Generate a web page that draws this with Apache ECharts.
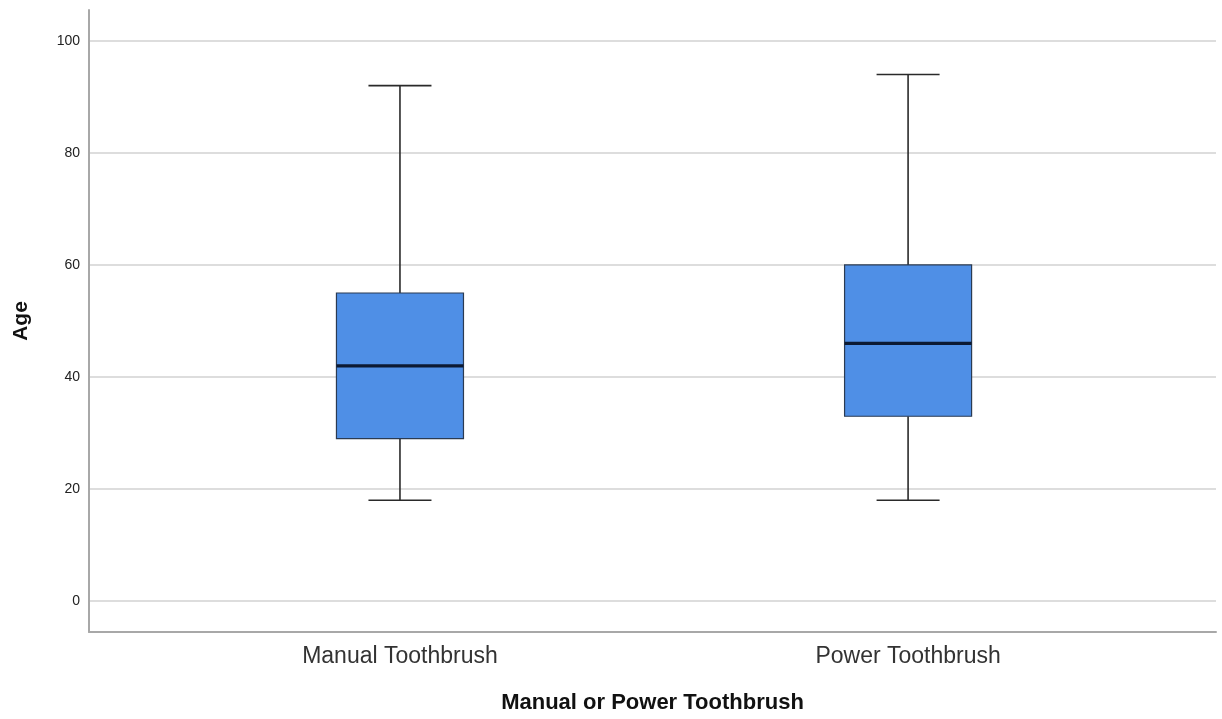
<!DOCTYPE html>
<html>
<head>
<meta charset="utf-8">
<script src="https://cdn.jsdelivr.net/npm/echarts@6/dist/echarts.min.js"></script>
<style>html,body{margin:0;padding:0;background:#fff}#c{width:1222px;height:719px}</style>
</head>
<body>
<div id="c"></div>
<script>
var categories = ['Manual Toothbrush', 'Power Toothbrush'];
// [min, Q1, median, Q3, max]
var minValues = [18, 18];
var q1Values = [29, 33];
var medianValues = [42, 46];
var q3Values = [55, 60];
var maxValues = [92, 94];
var yTicks = [0, 20, 40, 60, 80, 100];

var data = categories.map(function (c, i) {
  return [i, minValues[i], q1Values[i], medianValues[i], q3Values[i], maxValues[i]];
});

var BOX_HALF = 0.125, CAP_HALF = 0.062;

var chart = echarts.init(document.getElementById('c'), null, {renderer: 'canvas'});
chart.setOption({
  animation: false,
  backgroundColor: '#fff',
  grid: {left: 89, right: 6, top: 10, bottom: 84, containLabel: false},
  xAxis: {
    type: 'value',
    min: -0.612, max: 1.606,
    name: 'Manual or Power Toothbrush',
    nameLocation: 'middle',
    nameGap: 60,
    nameTextStyle: {fontFamily: 'Liberation Sans, Arial', fontWeight: 'bold', fontSize: 22, color: '#111'},
    axisLine: {show: true, onZero: false, lineStyle: {color: '#a8a8a8', width: 2}},
    axisTick: {show: false, customValues: [0, 1]},
    splitLine: {show: false},
    axisLabel: {
      customValues: [0, 1],
      margin: 13,
      fontFamily: 'Liberation Sans, Arial', fontSize: 23, color: '#333',
      formatter: function (v) { return categories[Math.round(v)]; }
    }
  },
  yAxis: {
    type: 'value',
    min: -5.5, max: 105.5,
    name: 'Age',
    nameLocation: 'middle',
    nameGap: 57,
    nameRotate: 90,
    nameTextStyle: {fontFamily: 'Liberation Sans, Arial', fontWeight: 'bold', fontSize: 21, color: '#111'},
    axisLine: {show: true, onZero: false, lineStyle: {color: '#a8a8a8', width: 2}},
    axisTick: {show: false, customValues: yTicks},
    axisLabel: {customValues: yTicks, margin: 9, fontFamily: 'Liberation Sans, Arial', fontSize: 14, color: '#222'},
    splitLine: {show: true, lineStyle: {color: '#d2d2d2', width: 1.5}}
  },
  series: [{
    type: 'custom',
    data: data,
    encode: {x: 0, y: [1, 2, 3, 4, 5]},
    renderItem: function (params, api) {
      var x = api.value(0);
      var mn = api.value(1), q1 = api.value(2), md = api.value(3), q3 = api.value(4), mx = api.value(5);
      var pMax = api.coord([x, mx]), pQ3 = api.coord([x, q3]), pQ1 = api.coord([x, q1]), pMin = api.coord([x, mn]);
      var bl = api.coord([x - BOX_HALF, q3]), br = api.coord([x + BOX_HALF, q1]);
      var cl = api.coord([x - CAP_HALF, mx])[0], cr = api.coord([x + CAP_HALF, mx])[0];
      var mdY = api.coord([x, md])[1];
      var whisk = {stroke: '#2a2a2a', lineWidth: 1.6};
      return {
        type: 'group',
        children: [
          {type: 'line', shape: {x1: pMax[0], y1: pMax[1], x2: pQ3[0], y2: pQ3[1]}, style: whisk},
          {type: 'line', shape: {x1: pQ1[0], y1: pQ1[1], x2: pMin[0], y2: pMin[1]}, style: whisk},
          {type: 'line', shape: {x1: cl, y1: pMax[1], x2: cr, y2: pMax[1]}, style: whisk},
          {type: 'line', shape: {x1: cl, y1: pMin[1], x2: cr, y2: pMin[1]}, style: whisk},
          {type: 'rect', shape: {x: bl[0], y: bl[1], width: br[0] - bl[0], height: br[1] - bl[1]},
           style: {fill: '#4f8fe6', stroke: '#2b3b52', lineWidth: 1.2}},
          {type: 'line', shape: {x1: bl[0], y1: mdY, x2: br[0], y2: mdY}, style: {stroke: '#0c1a33', lineWidth: 3.2}}
        ]
      };
    }
  }]
});
</script>
</body>
</html>
